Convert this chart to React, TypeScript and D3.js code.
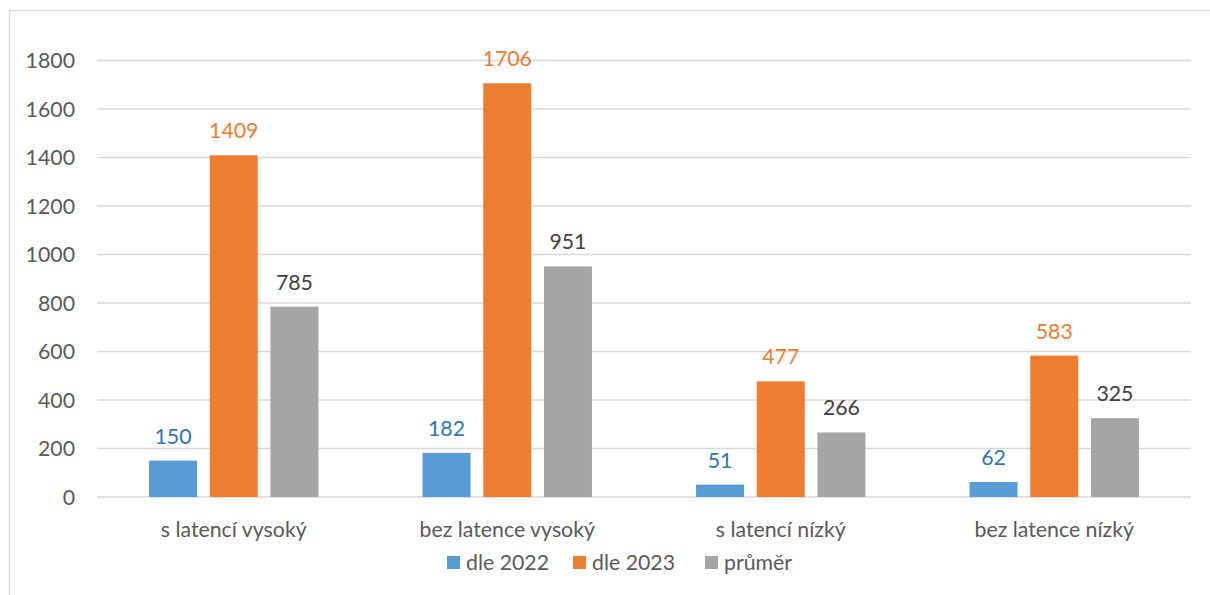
import React from "react";
import * as d3 from "d3";

const categories = ["s latencí vysoký", "bez latence vysoký", "s latencí nízký", "bez latence nízký"];
const seriesNames = ["dle 2022", "dle 2023", "průměr"];
const dle2022 = [150, 182, 51, 62];
const dle2023 = [1409, 1706, 477, 583];
const prumer = [785, 951, 266, 325];
const yTicks = [0, 200, 400, 600, 800, 1000, 1200, 1400, 1600, 1800];

const colors = ["#5B9BD5", "#ED7D31", "#A5A5A5"];
const labelColors = ["#2E75B6", "#ED7D31", "#404040"];

export default function App() {
  const W = 1210, H = 595;
  const left = 97, right = 1191, top = 60.5, bottom = 497;
  const font = "Lato, 'Open Sans', sans-serif";
  const fs = 21.3;
  const series = [dle2022, dle2023, prumer];

  const x = d3.scaleBand<string>().domain(categories).range([left, right]).padding(0);
  const y = d3.scaleLinear().domain([0, 1800]).range([bottom, top]);
  const barW = 48;
  const step = 60.7;
  const inner = d3.scaleLinear().domain([0, 1, 2]).range([-step, 0, step]);

  return (
    <svg width={W} height={H} style={{ position: "absolute", left: 0, top: 0, background: "#fff" }}>
      <rect x={9.5} y={10.5} width={1300} height={700} fill="#fff" stroke="#D9D9D9" strokeWidth={1.3} />
      {yTicks.map((t) => (
        <g key={t}>
          <line x1={left} x2={right} y1={y(t)} y2={y(t)} stroke="#D9D9D9" strokeWidth={1.3} />
          <text x={75} y={y(t)} dy="0.36em" textAnchor="end" fontFamily={font} fontSize={fs} fill="#595959">{t}</text>
        </g>
      ))}
      {categories.map((c, i) => {
        const cx = (x(c) as number) + x.bandwidth() / 2;
        return (
          <g key={c}>
            {series.map((s, k) => {
              const bx = cx + inner(k) - barW / 2;
              return (
                <g key={k}>
                  <rect x={bx} y={y(s[i])} width={barW} height={bottom - y(s[i])} fill={colors[k]} />
                  <text x={bx + barW / 2} y={y(s[i]) - 17} textAnchor="middle" fontFamily={font} fontSize={fs} fill={labelColors[k]}>{s[i]}</text>
                </g>
              );
            })}
            <text x={cx} y={537} textAnchor="middle" fontFamily={font} fontSize={fs} fill="#595959">{c}</text>
          </g>
        );
      })}
      {seriesNames.map((n, k) => {
        const lx = [447, 573, 705][k];
        return (
          <g key={n}>
            <rect x={lx} y={556} width={13} height={13} fill={colors[k]} />
            <text x={lx + 19} y={570} fontFamily={font} fontSize={fs} fill="#595959">{n}</text>
          </g>
        );
      })}
    </svg>
  );
}
